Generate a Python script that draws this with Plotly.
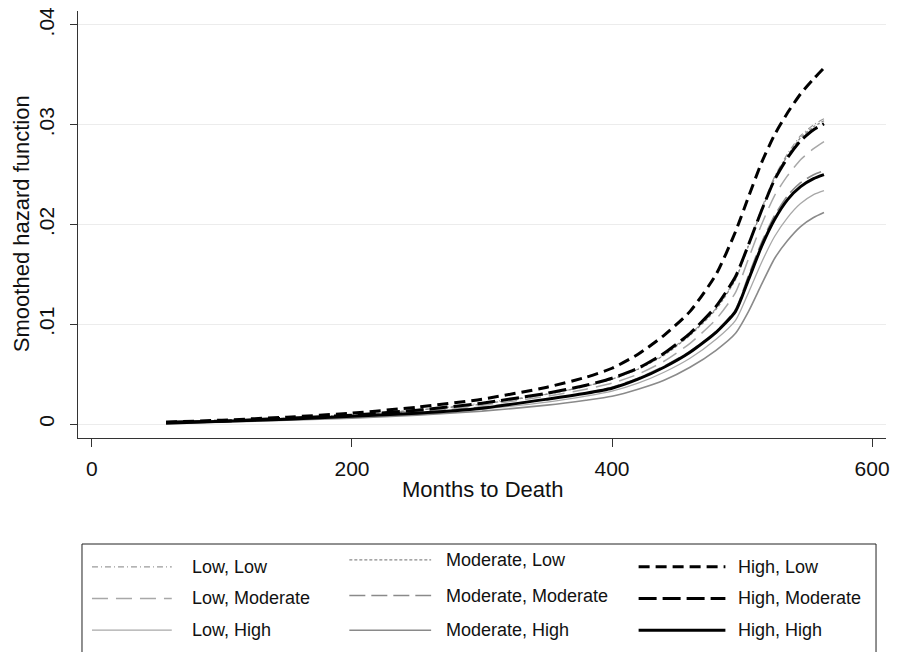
import plotly.graph_objects as go

# ---------------- data ----------------
months = [57, 100, 150, 200, 250, 300, 350, 380, 400, 420, 440, 460, 480, 495, 505, 515, 525, 535, 545, 555, 563]

low_low = [0.0002, 0.0003, 0.0006, 0.0009, 0.0014, 0.0021, 0.0030, 0.0038, 0.0045, 0.0055, 0.0070, 0.0090, 0.0116, 0.0146, 0.0180, 0.0216, 0.0248, 0.0271, 0.0289, 0.0300, 0.0306]
mod_low = [0.0002, 0.0003, 0.0006, 0.0009, 0.0014, 0.0020, 0.0030, 0.0038, 0.0045, 0.0055, 0.0069, 0.0089, 0.0115, 0.0145, 0.0179, 0.0214, 0.0246, 0.0269, 0.0287, 0.0298, 0.0304]
high_low = [0.0002, 0.0004, 0.0007, 0.0011, 0.0017, 0.0025, 0.0037, 0.0047, 0.0056, 0.0070, 0.0089, 0.0113, 0.0150, 0.0193, 0.0228, 0.0262, 0.0290, 0.0312, 0.0331, 0.0346, 0.0357]
low_mod = [0.0002, 0.0003, 0.0005, 0.0008, 0.0013, 0.0019, 0.0028, 0.0035, 0.0041, 0.0050, 0.0063, 0.0081, 0.0105, 0.0132, 0.0166, 0.0200, 0.0229, 0.0249, 0.0265, 0.0276, 0.0283]
mod_mod = [0.0001, 0.0003, 0.0005, 0.0008, 0.0012, 0.0017, 0.0025, 0.0031, 0.0037, 0.0046, 0.0058, 0.0073, 0.0093, 0.0115, 0.0149, 0.0182, 0.0209, 0.0229, 0.0242, 0.0250, 0.0254]
high_mod = [0.0002, 0.0003, 0.0006, 0.0009, 0.0014, 0.0021, 0.0031, 0.0039, 0.0046, 0.0056, 0.0071, 0.0091, 0.0118, 0.0148, 0.0180, 0.0214, 0.0245, 0.0267, 0.0284, 0.0295, 0.0301]
low_high = [0.0001, 0.0003, 0.0005, 0.0007, 0.0010, 0.0015, 0.0022, 0.0028, 0.0033, 0.0041, 0.0052, 0.0066, 0.0085, 0.0104, 0.0132, 0.0162, 0.0188, 0.0207, 0.0221, 0.0230, 0.0234]
mod_high = [0.0001, 0.0002, 0.0004, 0.0006, 0.0009, 0.0013, 0.0019, 0.0024, 0.0028, 0.0035, 0.0044, 0.0057, 0.0074, 0.0091, 0.0113, 0.0140, 0.0166, 0.0184, 0.0198, 0.0207, 0.0212]
high_high = [0.0001, 0.0003, 0.0005, 0.0008, 0.0011, 0.0016, 0.0025, 0.0031, 0.0036, 0.0045, 0.0057, 0.0072, 0.0092, 0.0113, 0.0145, 0.0178, 0.0205, 0.0225, 0.0238, 0.0246, 0.0250]

series_names = ["Low, Low", "Moderate, Low", "High, Low",
                "Low, Moderate", "Moderate, Moderate", "High, Moderate",
                "Low, High", "Moderate, High", "High, High"]
series_values = [low_low, mod_low, high_low,
                 low_mod, mod_mod, high_mod,
                 low_high, mod_high, high_high]

x_tickvals = [0, 200, 400, 600]
x_ticktext = ["0", "200", "400", "600"]
y_tickvals = [0, 0.01, 0.02, 0.03, 0.04]
y_ticktext = ["0", ".01", ".02", ".03", ".04"]

# ---------------- styles ----------------
styles = {
    "Low, Low": dict(color="#9a9a9a", width=1.2, dash="6px,3px,1px,3px"),
    "Moderate, Low": dict(color="#8a8a8a", width=1.3, dash="3px,2px"),
    "High, Low": dict(color="#000000", width=3, dash="11px,6px"),
    "Low, Moderate": dict(color="#a8a8a8", width=1.5, dash="16px,8px"),
    "Moderate, Moderate": dict(color="#8a8a8a", width=1.6, dash="16px,6px"),
    "High, Moderate": dict(color="#000000", width=3, dash="18px,6px"),
    "Low, High": dict(color="#a8a8a8", width=1.3, dash="solid"),
    "Moderate, High": dict(color="#8a8a8a", width=1.6, dash="solid"),
    "High, High": dict(color="#000000", width=3, dash="solid"),
}

FONT = "Liberation Sans, Arial, Helvetica, sans-serif"
W, H = 897, 652
L, R, T, B = 78, 888, 7, 438  # plot area in pixels

fig = go.Figure()
# draw grey ones first, black on top
draw_order = ["Low, Low", "Moderate, Low", "Low, Moderate", "Moderate, Moderate",
              "Low, High", "Moderate, High", "High, Low", "High, Moderate", "High, High"]
for name in draw_order:
    vals = series_values[series_names.index(name)]
    fig.add_trace(go.Scatter(x=months, y=vals, mode="lines", name=name,
                             line=dict(shape="spline", smoothing=0.6, **styles[name]),
                             showlegend=False, hoverinfo="skip"))

def px_x(px):
    return (px - L) / (R - L)

def px_y(py):
    return (B - py) / (B - T)

shapes = []
annotations = []

# legend box
shapes.append(dict(type="rect", xref="paper", yref="paper",
                   x0=px_x(82), x1=px_x(878), y0=px_y(680), y1=px_y(545),
                   line=dict(color="#222222", width=1), fillcolor="rgba(0,0,0,0)", layer="above"))

col_sample = [(92, 172), (350, 432), (640, 727)]
col_text = [190, 445, 738]
row_y = [[568, 600, 632], [561, 597, 632], [568, 600, 632]]
for i, name in enumerate(series_names):
    row, col = divmod(i, 3)
    st = styles[name]
    y = row_y[col][row]
    shapes.append(dict(type="line", xref="paper", yref="paper",
                       x0=px_x(col_sample[col][0]), x1=px_x(col_sample[col][1]),
                       y0=px_y(y), y1=px_y(y),
                       line=dict(color=st["color"], width=st["width"], dash=st["dash"])))
    annotations.append(dict(xref="paper", yref="paper", x=px_x(col_text[col]), y=px_y(y),
                            text=name, showarrow=False, xanchor="left", yanchor="middle",
                            font=dict(family=FONT, size=18, color="#111111")))

# axis titles
annotations.append(dict(xref="paper", yref="paper", x=px_x(483), y=px_y(490),
                        text="Months to Death", showarrow=False, xanchor="center", yanchor="middle",
                        font=dict(family=FONT, size=22, color="#111111")))
annotations.append(dict(xref="paper", yref="paper", x=px_x(21), y=px_y(222),
                        text="Smoothed hazard function", showarrow=False, textangle=-90,
                        xanchor="center", yanchor="middle",
                        font=dict(family=FONT, size=22, color="#111111")))

x_lo = -10.7
x_hi = 610.7
y_lo = -0.00139
y_hi = 0.0414

fig.update_layout(
    width=W, height=H,
    margin=dict(l=L, r=W - R, t=T, b=H - B, pad=0),
    paper_bgcolor="white", plot_bgcolor="white",
    showlegend=False,
    font=dict(family=FONT, size=20, color="#111111"),
    shapes=shapes, annotations=annotations,
    xaxis=dict(range=[x_lo, x_hi], tickvals=x_tickvals, ticktext=x_ticktext,
               showgrid=False, zeroline=False, showline=True, linecolor="#333333", linewidth=1,
               ticks="outside", ticklen=8, tickcolor="#333333", tickwidth=1,
               tickfont=dict(family=FONT, size=21, color="#111111"), ticklabelstandoff=4),
    yaxis=dict(range=[y_lo, y_hi], tickvals=y_tickvals, ticktext=y_ticktext,
               showgrid=True, gridcolor="#ececec", gridwidth=1, zeroline=False,
               showline=True, linecolor="#333333", linewidth=1,
               ticks="outside", ticklen=7, tickcolor="#333333", tickwidth=1, tickangle=-90,
               tickfont=dict(family=FONT, size=21, color="#111111"), ticklabelstandoff=8),
)

fig.write_html("out.html", config={"displayModeBar": False},
               post_script="document.body.style.margin='0px';document.body.style.overflow='hidden';")
